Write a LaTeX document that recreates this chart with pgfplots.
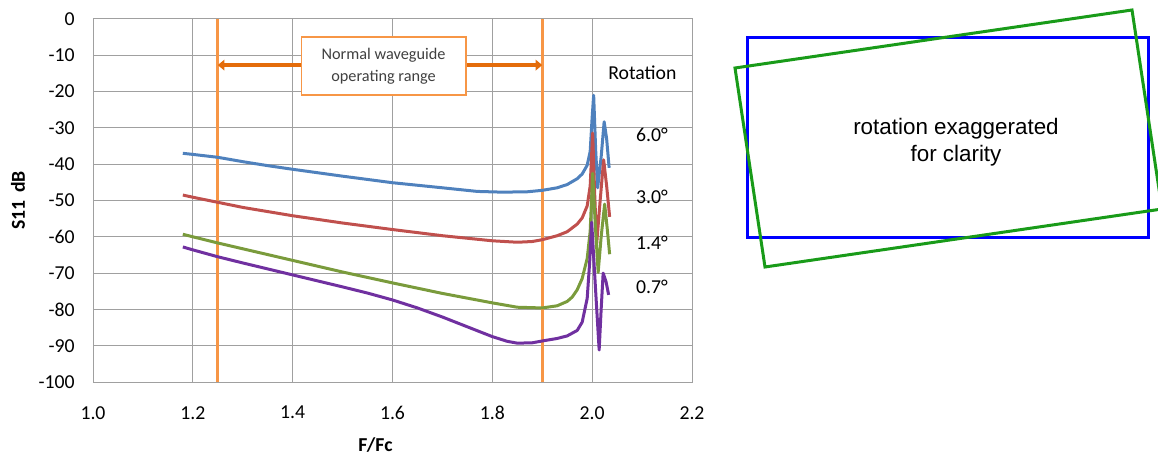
\documentclass[border=0pt]{standalone}
\usepackage{fontspec}
\setmainfont{Carlito}
\newfontfamily\arialfont{Liberation Sans}
\usepackage{pgfplots}
\pgfplotsset{compat=1.18}
\usetikzlibrary{arrows.meta}

\definecolor{gridgray}{RGB}{160,160,160}
\definecolor{sblue}{RGB}{79,129,189}
\definecolor{sred}{RGB}{192,80,77}
\definecolor{sgreen}{RGB}{122,155,60}
\definecolor{spurple}{RGB}{112,48,160}
\definecolor{rangeline}{RGB}{247,150,70}
\definecolor{rangearrow}{RGB}{228,108,10}
\definecolor{boxtext}{RGB}{64,64,64}
\definecolor{rectblue}{RGB}{0,0,255}
\definecolor{rectgreen}{RGB}{25,155,25}

\begin{document}
\begin{tikzpicture}[x=0.75pt,y=-0.75pt]
\useasboundingbox (0,0) rectangle (1158,456);
\coordinate (origin) at (93,382);
\begin{axis}[
  at={(origin)}, anchor=south west,
  scale only axis, width=449.25pt, height=272.25pt,
  xmin=1.0, xmax=2.2, ymin=-100, ymax=0,
  xtick={1.0,1.2,1.4,1.6,1.8,2.0,2.2},
  ytick={-100,-90,-80,-70,-60,-50,-40,-30,-20,-10,0},
  /pgf/number format/assume math mode=true,
  ticklabel style={font=\fontsize{14.8}{17}\selectfont, inner sep=0pt},
  xticklabel style={anchor=north, yshift=-18pt,
    /pgf/number format/fixed, /pgf/number format/fixed zerofill,
    /pgf/number format/precision=1},
  yticklabel style={anchor=east, xshift=-13.5pt},
  major tick length=0pt,
  grid=major,
  major grid style={gridgray, line width=0.75pt},
  axis line style={gridgray, line width=0.75pt},
  xlabel={\bfseries F/Fc},
  ylabel={\bfseries S11\, dB},
  label style={font=\fontsize{14.8}{17}\selectfont},
  xlabel style={at={(axis description cs:0.4716,-0.174)}, anchor=center},
  ylabel style={at={(axis description cs:-0.125,0.5)}, anchor=center},
  clip=false,
]
% operating range limits
\addplot[rangeline, line width=2.25pt] coordinates {(1.25,-100) (1.25,0)};
\addplot[rangeline, line width=2.25pt] coordinates {(1.9,-100) (1.9,0)};

% 6.0 deg
\addplot[sblue, line width=2.25pt, line join=round] coordinates {
(1.18,-37.0) (1.20,-37.3) (1.25,-38.1) (1.30,-39.3) (1.35,-40.4) (1.40,-41.4)
(1.50,-43.3) (1.60,-45.1) (1.70,-46.5) (1.77,-47.5) (1.82,-47.7) (1.87,-47.6)
(1.90,-47.2) (1.93,-46.5) (1.95,-45.6) (1.97,-44.0) (1.98,-42.7) (1.99,-40.3)
(1.996,-36.5) (2.000,-27) (2.003,-21) (2.007,-36) (2.011,-46.5) (2.018,-38)
(2.024,-28.3) (2.029,-33) (2.034,-41)
};
% 3.0 deg
\addplot[sred, line width=2.25pt, line join=round] coordinates {
(1.18,-48.5) (1.20,-49.1) (1.25,-50.5) (1.30,-51.9) (1.40,-54.2) (1.50,-56.2)
(1.60,-58.0) (1.70,-59.7) (1.80,-61.1) (1.85,-61.5) (1.88,-61.3) (1.90,-60.8)
(1.93,-59.7) (1.95,-58.6) (1.97,-56.5) (1.98,-54.8) (1.99,-51.5) (1.996,-46)
(2.001,-31.4) (2.005,-48) (2.009,-62) (2.016,-50) (2.023,-38.8) (2.029,-46)
(2.035,-54.5)
};
% 1.4 deg
\addplot[sgreen, line width=2.25pt, line join=round] coordinates {
(1.18,-59.3) (1.20,-60.0) (1.25,-61.7) (1.30,-63.3) (1.40,-66.5) (1.50,-69.7)
(1.60,-72.7) (1.70,-75.6) (1.80,-78.2) (1.85,-79.4) (1.90,-79.6) (1.93,-79.0)
(1.95,-77.8) (1.96,-76.6) (1.97,-74.6) (1.98,-71.5) (1.99,-66.0) (1.996,-58.5)
(2.001,-42.5) (2.006,-56) (2.012,-69.8) (2.018,-60) (2.025,-51) (2.030,-57.5)
(2.035,-64.8)
};
% 0.7 deg
\addplot[spurple, line width=2.25pt, line join=round] coordinates {
(1.18,-62.8) (1.20,-63.6) (1.25,-65.5) (1.30,-67.2) (1.40,-70.5) (1.50,-73.8)
(1.55,-75.5) (1.60,-77.4) (1.65,-79.6) (1.70,-82.1) (1.75,-84.8) (1.80,-87.5)
(1.83,-88.8) (1.85,-89.3) (1.88,-89.2) (1.90,-88.7) (1.93,-88.0) (1.95,-87.3)
(1.97,-85.8) (1.98,-83.5) (1.99,-77.0) (1.995,-67) (1.999,-56) (2.007,-75)
(2.014,-91.2) (2.018,-80) (2.022,-70) (2.028,-72.5) (2.033,-76)
};

\draw[rangearrow, line width=3pt, {Triangle[length=5pt,width=8pt]}-{Triangle[length=5pt,width=8pt]}]
  (axis cs:1.25,-12.7) -- (axis cs:1.9,-12.7);
\node[draw=rangeline, line width=1pt, fill=white, text=boxtext, align=center,
  minimum width=123.5pt, minimum height=43.5pt, inner sep=0pt,
  font=\fontsize{12.2}{16.3}\selectfont]
  at (axis cs:1.582,-12.95) {Normal waveguide\\operating range};

\node[font=\fontsize{14.8}{17}\selectfont] at (axis cs:2.1007,-14.9) {Rotation};
\node[font=\fontsize{14.8}{17}\selectfont] at (axis cs:2.120,-31.8) {6.0°};
\node[font=\fontsize{14.8}{17}\selectfont] at (axis cs:2.120,-49.0) {3.0°};
\node[font=\fontsize{14.8}{17}\selectfont] at (axis cs:2.120,-61.6) {1.4°};
\node[font=\fontsize{14.8}{17}\selectfont] at (axis cs:2.120,-73.7) {0.7°};
\end{axis}

% rotation sketch
\draw[rectblue, line width=2.25pt] (747,38) rectangle (1148,238);
\draw[rectgreen, line width=2.25pt, line join=miter] (735,68) -- (1132,10) -- (1162,209) -- (765,267) -- cycle;
\node[font=\arialfont\fontsize{16.8}{20}\selectfont, align=center] at (956,142)
  {rotation exaggerated\\for clarity};
\end{tikzpicture}
\end{document}
